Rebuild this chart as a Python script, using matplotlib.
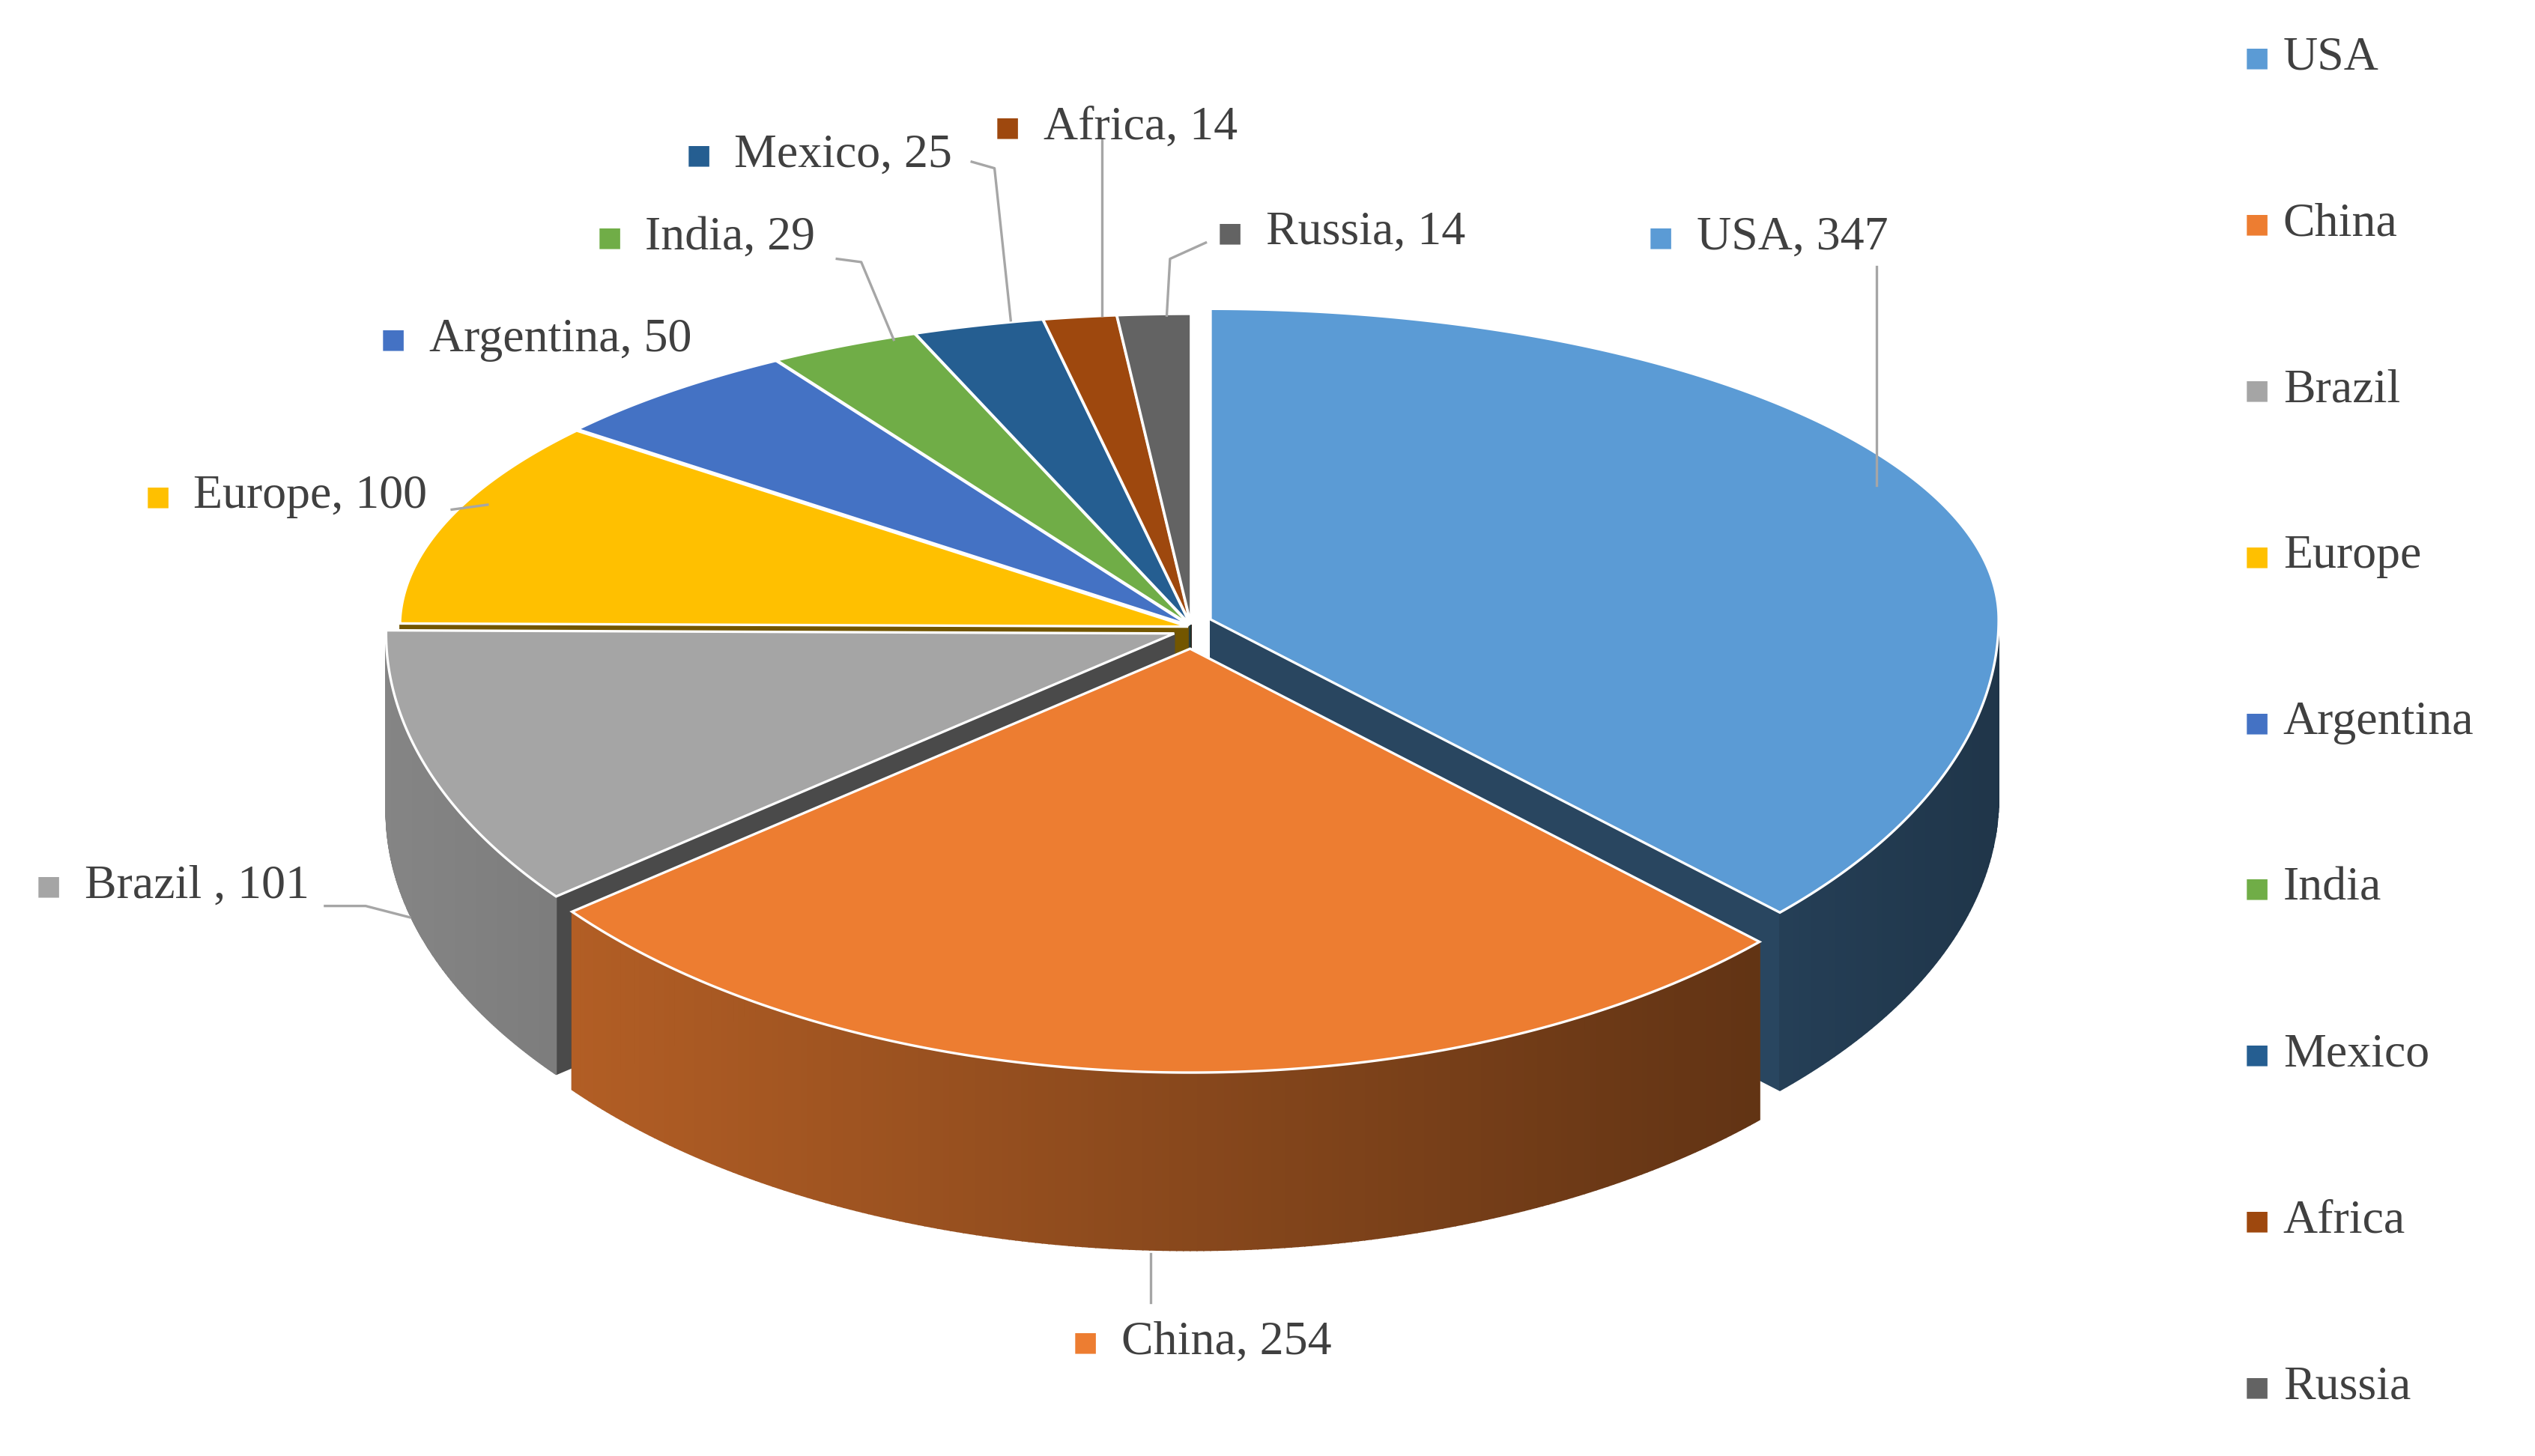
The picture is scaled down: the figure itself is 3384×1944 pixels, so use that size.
import numpy as np
import matplotlib.pyplot as plt
from matplotlib.patches import Polygon
from matplotlib.colors import to_rgb

regions = ['USA', 'China', 'Brazil', 'Europe', 'Argentina', 'India', 'Mexico', 'Africa', 'Russia']
values = [347, 254, 101, 100, 50, 29, 25, 14, 14]
label_text = ['USA, 347', 'China, 254', 'Brazil , 101', 'Europe, 100', 'Argentina, 50',
              'India, 29', 'Mexico, 25', 'Africa, 14', 'Russia, 14']
colors = ['#5B9BD5', '#ED7D31', '#A5A5A5', '#FFC000', '#4472C4',
          '#70AD47', '#255E91', '#9E480E', '#636363']
explode = [13, 13, 11, 2, 2, 2, 2, 2, 2]

plt.rcParams['font.family'] = ['Liberation Serif', 'DejaVu Serif']
fig = plt.figure(figsize=(16.92, 9.72), dpi=200)
ax = fig.add_axes([0, 0, 1, 1])
ax.set_xlim(0, 1560)
ax.set_ylim(900, 0)
ax.axis('off')

cx, cy, rx, ry_back, ry_front, depth = 733, 388, 485, 192, 262, 110

def pt(t, dx=0, dy=0):
    s = np.sin(t)
    ry = np.where(s > 0, ry_back, ry_front)
    return cx + dx + rx * np.cos(t), cy + dy - ry * s

total = sum(values)
start = np.pi / 2
walls, tops = [], []
for v, c, e in zip(values, colors, explode):
    sweep = v / total * 2 * np.pi
    t1, t2 = start, start - sweep
    mid = (t1 + t2) / 2
    dx, dy = e * np.cos(mid), -e * np.sin(mid)
    ts = np.linspace(t1, t2, 200)
    x, y = pt(ts, dx, dy)
    tops.append((np.r_[cx + dx, x], np.r_[cy + dy, y], c))
    base = np.array(to_rgb(c))
    # radial faces
    for t in (t1, t2):
        ex, ey = pt(np.array([t]), dx, dy)
        quad = [(cx + dx, cy + dy), (ex[0], ey[0]), (ex[0], ey[0] + depth), (cx + dx, cy + dy + depth)]
        walls.append((cy + dy - 1000, quad, base * 0.45))
    # outer wall strips (front half only)
    for i in range(len(ts) - 1):
        if np.sin((ts[i] + ts[i + 1]) / 2) < 0:
            q = [(x[i], y[i]), (x[i + 1], y[i + 1]), (x[i + 1], y[i + 1] + depth), (x[i], y[i] + depth)]
            f = 0.8 - 0.45 * (x[i] - (cx - rx)) / (2 * rx)
            walls.append((y[i], q, base * f))
    start = t2

for _, q, col in sorted(walls, key=lambda w: w[0]):
    ax.add_patch(Polygon(q, closed=True, facecolor=col, edgecolor=col, lw=0.6))
for x, y, c in tops:
    ax.add_patch(Polygon(np.c_[x, y], closed=True, facecolor=c, edgecolor='white', lw=1.2))

# data labels with leader lines
label_pos = [(1022, 147), (668, 830), (30, 548), (97, 307), (242, 210),
             (375, 147), (430, 96), (620, 79), (757, 144)]
leaders = [[(1155, 165), (1155, 300)], [(708, 805), (708, 775)],
           [(200, 560), (225, 560), (252, 567)], [(278, 315), (300, 312)], None,
           [(515, 160), (530, 162), (550, 210)], [(598, 100), (612, 104), (622, 198)],
           [(678, 86), (678, 195)], [(742, 150), (720, 160), (718, 195)]]
for (lx, ly), txt, c, ld in zip(label_pos, label_text, colors, leaders):
    ax.text(lx, ly, '■', color=c, fontsize=13, ha='center', va='center', family='DejaVu Sans')
    ax.text(lx + 22, ly, txt, fontsize=23, va='center', color='#404040')
    if ld:
        xs, ys = zip(*ld)
        ax.plot(xs, ys, color='#A6A6A6', lw=1.2)

# legend
for i, (r, c) in enumerate(zip(regions, colors)):
    yy = 36 + i * 102.7
    ax.text(1389, yy, '■', color=c, fontsize=13, ha='center', va='center', family='DejaVu Sans')
    ax.text(1405, yy, r, fontsize=23, va='center', color='#404040')

fig.savefig('out.png', dpi=200, facecolor='white')
